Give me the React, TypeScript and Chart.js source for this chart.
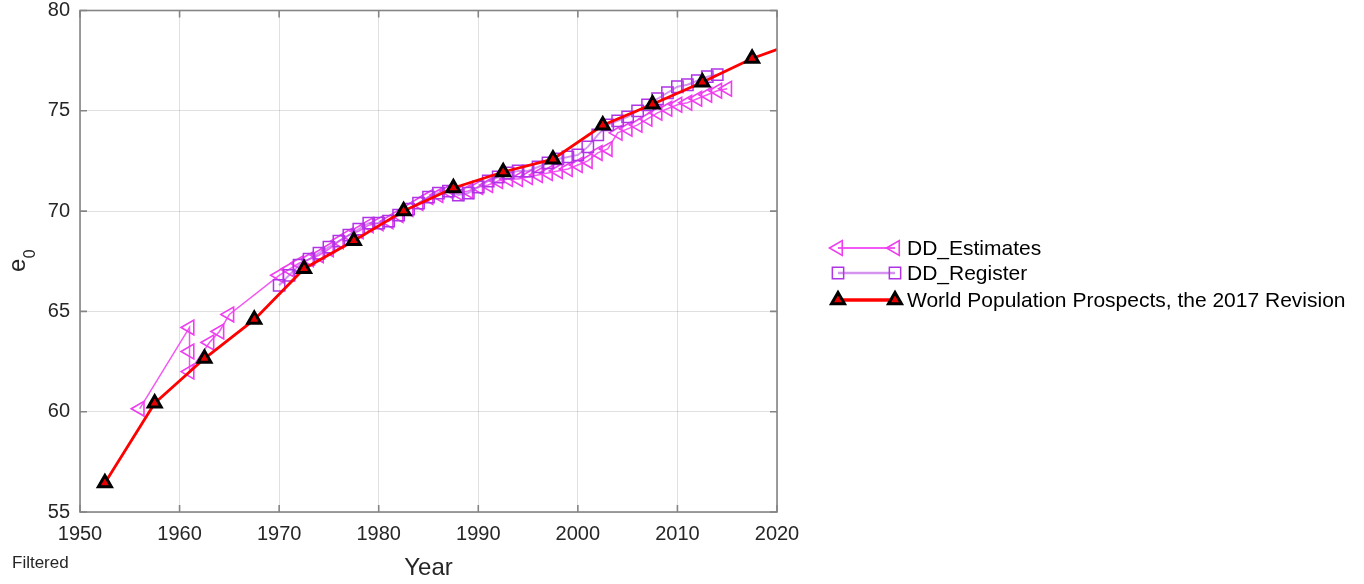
import React, { useEffect, useRef } from 'react';
import { Chart, registerables } from 'chart.js';

Chart.register(...registerables);

// ---- axis ticks ----
const xTicks = [1950, 1960, 1970, 1980, 1990, 2000, 2010, 2020];
const yTicks = [55, 60, 65, 70, 75, 80];

// ---- World Population Prospects, the 2017 Revision (5-year periods) ----
const wppYears = [1952.5, 1957.5, 1962.5, 1967.5, 1972.5, 1977.5, 1982.5, 1987.5, 1992.5, 1997.5, 2002.5, 2007.5, 2012.5, 2017.5, 2022.5];
const wppValues = [56.44, 60.42, 62.65, 64.59, 67.13, 68.52, 70.01, 71.15, 71.95, 72.59, 74.28, 75.33, 76.42, 77.61, 78.5];

// ---- DD_Estimates ----
const estYears = [
  1956, 1961, 1961, 1961, 1963, 1964, 1965,
  1970, 1971, 1972, 1973, 1974, 1975, 1976, 1977, 1978, 1979, 1980, 1981, 1982, 1983, 1984, 1985, 1986, 1987,
  1988, 1989, 1990, 1991, 1992, 1993, 1994, 1995, 1996, 1997, 1998, 1999, 2000, 2001, 2002, 2003,
  2004, 2005, 2006, 2007, 2008, 2009, 2010, 2011, 2012, 2013, 2014, 2015,
];
const estValues = [
  60.15, 64.2, 63.0, 62.0, 63.45, 64.0, 64.85,
  66.8, 67.1, 67.4, 67.6, 67.8, 68.1, 68.5, 68.8, 69.0, 69.3, 69.4, 69.5, 69.8, 70.1, 70.4, 70.7, 70.8, 71.0,
  70.9, 71.0, 71.2, 71.3, 71.5, 71.6, 71.6, 71.7, 71.8, 71.9, 72.0, 72.1, 72.3, 72.5, 72.9, 73.1,
  73.9, 74.1, 74.3, 74.6, 74.9, 75.1, 75.3, 75.4, 75.6, 75.8, 76.0, 76.1,
];

// ---- DD_Register ----
const regYears = [
  1970, 1971, 1972, 1973, 1974, 1975, 1976, 1977, 1978, 1979, 1980, 1981, 1982, 1983, 1984, 1985, 1986, 1987,
  1988, 1989, 1990, 1991, 1992, 1993, 1994, 1995, 1996, 1997, 1998, 1999, 2000, 2001, 2002, 2003,
  2004, 2005, 2006, 2007, 2008, 2009, 2010, 2011, 2012, 2013, 2014,
];
const regValues = [
  66.3, 66.8, 67.3, 67.6, 67.9, 68.2, 68.5, 68.8, 69.1, 69.4, 69.4, 69.5, 69.8, 70.1, 70.4, 70.7, 70.9, 71.0,
  70.8, 70.9, 71.2, 71.5, 71.7, 71.9, 72.0, 72.0, 72.2, 72.4, 72.6, 72.7, 72.8, 73.2, 73.8, 74.3,
  74.5, 74.7, 75.0, 75.3, 75.6, 75.9, 76.2, 76.3, 76.5, 76.7, 76.8,
];

const seriesLabels = ['DD_Estimates', 'DD_Register', 'World Population Prospects, the 2017 Revision'];

const FONT = '"Liberation Sans", Arial, Helvetica, sans-serif';
const AXIS_COLOR = '#858585';
const TEXT_COLOR = '#262626';

function toPoints(xs: number[], ys: number[]) {
  return xs.map((x, i) => ({ x, y: ys[i] }));
}

function markerPath(ctx: CanvasRenderingContext2D, style: string, x: number, y: number, r: number, rot: number) {
  ctx.beginPath();
  if (style === 'triangle') {
    let rad = (rot * Math.PI) / 180;
    for (let k = 0; k < 3; k++) {
      const px = x + Math.sin(rad) * r;
      const py = y - Math.cos(rad) * r;
      if (k === 0) ctx.moveTo(px, py);
      else ctx.lineTo(px, py);
      rad += (2 * Math.PI) / 3;
    }
    ctx.closePath();
  } else {
    const s = r * Math.SQRT1_2;
    ctx.rect(x - s, y - s, 2 * s, 2 * s);
  }
}

const decorPlugin = {
  id: 'matlabDecor',
  afterDraw(chart: any) {
    const { ctx, chartArea: a, scales } = chart;
    ctx.save();

    // axes box
    ctx.strokeStyle = AXIS_COLOR;
    ctx.lineWidth = 1.6;
    ctx.strokeRect(a.left, a.top, a.right - a.left, a.bottom - a.top);

    // inward tick marks
    const tl = 7;
    ctx.beginPath();
    xTicks.forEach((v) => {
      const px = scales.x.getPixelForValue(v);
      ctx.moveTo(px, a.bottom);
      ctx.lineTo(px, a.bottom - tl);
      ctx.moveTo(px, a.top);
      ctx.lineTo(px, a.top + tl);
    });
    yTicks.forEach((v) => {
      const py = scales.y.getPixelForValue(v);
      ctx.moveTo(a.left, py);
      ctx.lineTo(a.left + tl, py);
      ctx.moveTo(a.right, py);
      ctx.lineTo(a.right - tl, py);
    });
    ctx.stroke();

    // axis titles
    ctx.fillStyle = TEXT_COLOR;
    ctx.textBaseline = 'alphabetic';
    ctx.textAlign = 'center';
    ctx.font = `24px ${FONT}`;
    ctx.fillText('Year', (a.left + a.right) / 2, 575);

    // e0 (rotated, subscript 0)
    ctx.save();
    ctx.translate(25, 272);
    ctx.rotate(-Math.PI / 2);
    ctx.textAlign = 'left';
    ctx.font = `24px ${FONT}`;
    ctx.fillText('e', 0, 0);
    const ew = ctx.measureText('e').width;
    ctx.font = `16px ${FONT}`;
    ctx.fillText('0', ew + 0.5, 10);
    ctx.restore();

    // "Filtered"
    ctx.textAlign = 'left';
    ctx.font = `17px ${FONT}`;
    ctx.fillText('Filtered', 12, 568);

    // legend
    const rows = [248, 273, 300];
    const x1 = 838;
    const x2 = 895;
    chart.data.datasets.forEach((ds: any, i: number) => {
      const y = rows[i];
      ctx.strokeStyle = ds.borderColor;
      ctx.lineWidth = ds.borderWidth + 0.6;
      ctx.beginPath();
      ctx.moveTo(x1, y);
      ctx.lineTo(x2, y);
      ctx.stroke();
      [x1, x2].forEach((mx) => {
        markerPath(ctx, ds.pointStyle, mx, y, ds.pointRadius, ds.pointRotation || 0);
        if (ds.pointBackgroundColor && ds.pointBackgroundColor !== 'rgba(0,0,0,0)') {
          ctx.fillStyle = ds.pointBackgroundColor;
          ctx.fill();
        }
        ctx.strokeStyle = ds.pointBorderColor;
        ctx.lineWidth = ds.pointBorderWidth;
        ctx.stroke();
      });
      ctx.fillStyle = '#000';
      ctx.font = `21px ${FONT}`;
      ctx.textAlign = 'left';
      ctx.textBaseline = 'middle';
      ctx.fillText(seriesLabels[i], 907, y + 1);
    });

    ctx.restore();
  },
};

export default function App() {
  const ref = useRef<HTMLCanvasElement>(null);

  useEffect(() => {
    const canvas = ref.current;
    if (!canvas) return;
    const chart = new Chart(canvas, {
      type: 'line',
      data: {
        datasets: [
          {
            label: seriesLabels[0],
            data: toPoints(estYears, estValues),
            borderColor: 'rgba(240,60,240,0.85)',
            borderWidth: 1.5,
            pointStyle: 'triangle',
            pointRotation: -90,
            pointRadius: 8.5,
            pointHoverRadius: 8.5,
            pointBorderColor: '#EE3DEE',
            pointBackgroundColor: 'rgba(0,0,0,0)',
            pointBorderWidth: 1.6,
            tension: 0,
            order: 2,
          },
          {
            label: seriesLabels[1],
            data: toPoints(regYears, regValues),
            borderColor: 'rgba(185,75,230,0.6)',
            borderWidth: 2,
            pointStyle: 'rect',
            pointRotation: 0,
            pointRadius: 8,
            pointHoverRadius: 8,
            pointBorderColor: '#B034E6',
            pointBackgroundColor: 'rgba(0,0,0,0)',
            pointBorderWidth: 1.5,
            tension: 0,
            order: 1,
          },
          {
            label: seriesLabels[2],
            data: toPoints(wppYears, wppValues),
            borderColor: '#FF0000',
            borderWidth: 2.8,
            pointStyle: 'triangle',
            pointRotation: 0,
            pointRadius: 7.5,
            pointHoverRadius: 7.5,
            pointBorderColor: '#000000',
            pointBackgroundColor: '#E80000',
            pointBorderWidth: 3,
            tension: 0,
            order: 0,
          },
        ] as any,
      },
      options: {
        animation: false,
        responsive: false,
        devicePixelRatio: 1,
        events: [],
        layout: { padding: { left: 0, top: 9, right: 1364 - 777, bottom: 0 } },
        plugins: {
          legend: { display: false },
          tooltip: { enabled: false },
          title: { display: false },
        },
        scales: {
          x: {
            type: 'linear',
            min: 1950,
            max: 2020,
            afterBuildTicks: (s: any) => {
              s.ticks = xTicks.map((v) => ({ value: v }));
            },
            afterFit: (s: any) => {
              s.height = 72;
              s.paddingLeft = 0;
              s.paddingRight = 0;
            },
            ticks: {
              autoSkip: false,
              maxRotation: 0,
              minRotation: 0,
              padding: 10,
              color: TEXT_COLOR,
              font: { family: FONT, size: 20 },
              callback: (v: any) => String(v),
            },
            grid: { color: 'rgba(38,38,38,0.14)', lineWidth: 1, drawTicks: false },
            border: { display: false },
          },
          y: {
            type: 'linear',
            min: 55,
            max: 80,
            afterBuildTicks: (s: any) => {
              s.ticks = yTicks.map((v) => ({ value: v }));
            },
            afterFit: (s: any) => {
              s.width = 80;
              s.paddingTop = 0;
              s.paddingBottom = 0;
            },
            ticks: {
              autoSkip: false,
              padding: 10,
              color: TEXT_COLOR,
              font: { family: FONT, size: 20 },
              callback: (v: any) => String(v),
            },
            grid: { color: 'rgba(38,38,38,0.14)', lineWidth: 1, drawTicks: false },
            border: { display: false },
          },
        },
      } as any,
      plugins: [decorPlugin],
    });
    return () => chart.destroy();
  }, []);

  return (
    <div style={{ position: 'absolute', left: 0, top: 0, width: 1364, height: 584, background: '#ffffff' }}>
      <canvas ref={ref} width={1364} height={584} style={{ display: 'block', width: 1364, height: 584 }} />
    </div>
  );
}
